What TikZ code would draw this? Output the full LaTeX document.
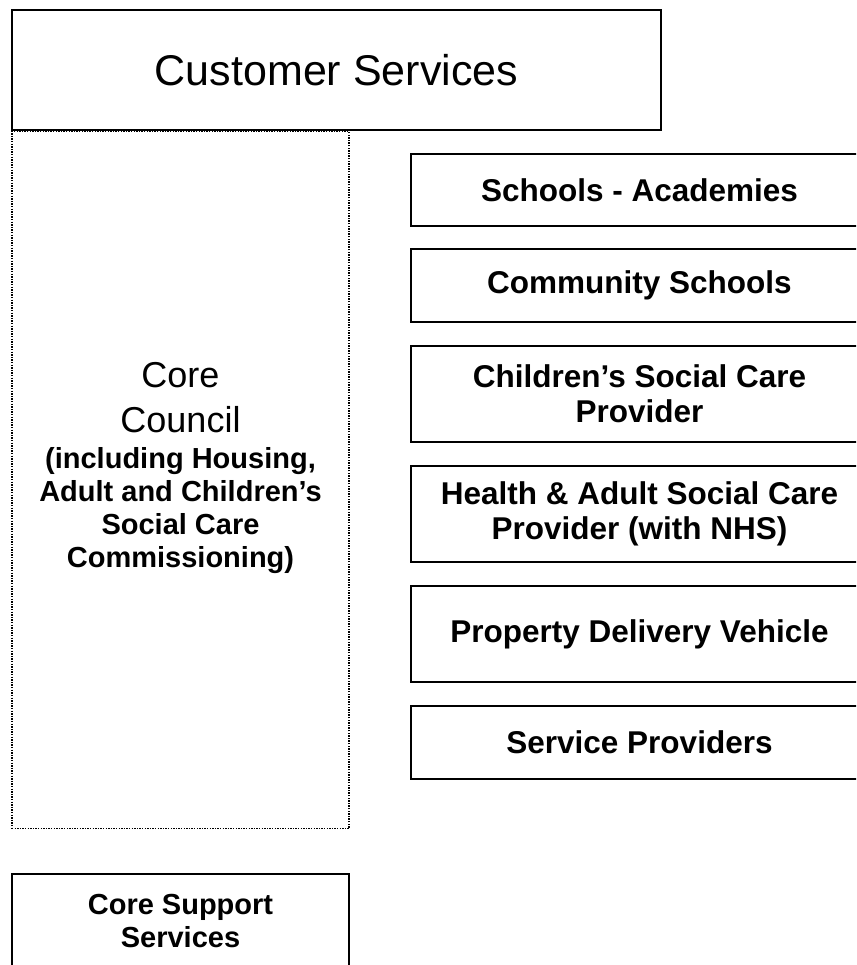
\documentclass[tikz,border=0pt]{standalone}
\usepackage{fontspec}
\setmainfont{Liberation Sans}
\begin{document}
\begin{tikzpicture}[x=1pt,y=-1pt,
  solidbox/.style={draw=black,line width=1.8pt,rectangle,inner sep=0pt,align=center},
  dotbox/.style={draw=black,line width=1.6pt,dash pattern=on 1.4pt off 1.2pt,rectangle,inner sep=0pt},
  unitbox/.style={solidbox,minimum width=457pt,font=\fontsize{31.5}{35}\selectfont\bfseries},
  bigtxt/.style={font=\fontsize{43}{50}\selectfont},
  midtxt/.style={font=\fontsize{36}{45}\selectfont,align=center,inner sep=0pt},
  smalltxt/.style={font=\fontsize{29}{33}\selectfont\bfseries,align=center,inner sep=0pt}]
  \useasboundingbox (0,0) rectangle (856,965);
  \clip (0,0) rectangle (856,965);

  % top banner
  \node[solidbox,bigtxt,minimum width=649pt,minimum height=120pt] (cs) at (336.5,70) {Customer Services};

  % core council column (base anchor sits on the last line)
  \node[dotbox,minimum width=337pt,minimum height=697pt] (core) at (180.5,480) {};
  \node[midtxt,anchor=base] (coretitle) at (180.5,432) {Core\\Council};
  \node[smalltxt,anchor=base] (coresub) at (180.5,567) {(including Housing,\\Adult and Children’s\\Social Care\\Commissioning)};

  % delivery units on the right
  \node[unitbox,minimum height=72pt] (sa)  at (639.5,190)   {Schools - Academies};
  \node[unitbox,minimum height=73pt] (cm)  at (639.5,285.5) {Community Schools};
  \node[unitbox,minimum height=96pt] (csc) at (639.5,394)   {Children’s Social Care\\Provider};
  \node[unitbox,minimum height=96pt] (has) at (639.5,514)   {Health \& Adult Social Care\\Provider (with NHS)};
  \node[unitbox,minimum height=96pt] (pdv) at (639.5,634)   {Property Delivery Vehicle};
  \node[unitbox,minimum height=73pt] (sp)  at (639.5,742.5) {Service Providers};

  % support services
  \node[solidbox,minimum width=337pt,minimum height=130pt] (css) at (180.5,939) {};
  \node[smalltxt] (csslabel) at (180.5,921) {Core Support\\Services};
\end{tikzpicture}
\end{document}
